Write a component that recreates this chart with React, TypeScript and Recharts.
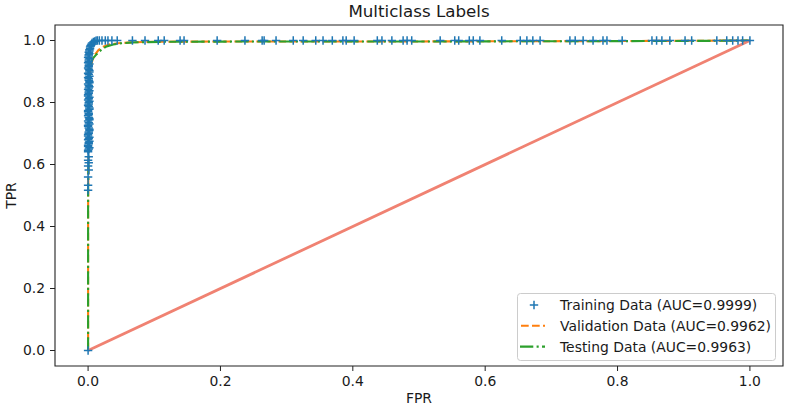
import { ComposedChart, Line, ReferenceArea, Scatter, XAxis, YAxis } from 'recharts';

const WIDTH = 787;
const HEIGHT = 409;
const FONT = '"DejaVu Sans", Verdana, sans-serif';
const TEXT = '#1a1a1a';

// plot box (matches matplotlib axes)
const PLOT_LEFT = 55;
const PLOT_TOP = 25;
const PLOT_RIGHT = 783;
const PLOT_BOTTOM = 366;

const axisTicks = [0, 0.2, 0.4, 0.6, 0.8, 1.0];

// Training ROC points (FPR, TPR), drawn as "+" markers
const trainingPoints: [number, number][] = [
  [0.0, 0.0],
  [0.0, 0.517], [0.0, 0.533], [0.0, 0.56], [0.001, 0.582], [0.0, 0.595],
  [0.001, 0.606], [0.0, 0.614], [0.001, 0.625], [0.0, 0.641],
  [0.001, 0.65], [0.0, 0.658], [0.001, 0.667], [0.002, 0.675], [0.001, 0.684],
  [0.0, 0.692], [0.001, 0.701], [0.002, 0.71], [0.001, 0.718], [0.0, 0.727],
  [0.001, 0.735], [0.002, 0.744], [0.001, 0.752], [0.001, 0.761], [0.0, 0.77],
  [0.002, 0.778], [0.001, 0.787], [0.001, 0.795], [0.002, 0.804], [0.001, 0.812],
  [0.0, 0.821], [0.001, 0.83], [0.002, 0.838], [0.001, 0.847], [0.001, 0.855],
  [0.002, 0.864], [0.001, 0.872], [0.0, 0.881], [0.001, 0.89], [0.002, 0.898],
  [0.001, 0.907], [0.001, 0.915], [0.002, 0.924], [0.001, 0.932], [0.002, 0.941],
  [0.001, 0.95], [0.002, 0.958], [0.002, 0.966], [0.003, 0.973], [0.003, 0.979],
  [0.004, 0.984], [0.005, 0.988], [0.006, 0.992], [0.008, 0.995], [0.01, 0.997],
  [0.012, 0.999],
  [0.0, 0.646], [0.002, 0.654], [0.0, 0.662], [0.001, 0.671], [0.0, 0.68],
  [0.002, 0.688], [0.0, 0.697], [0.001, 0.705], [0.002, 0.714], [0.0, 0.723],
  [0.002, 0.731], [0.0, 0.74], [0.002, 0.748], [0.0, 0.757], [0.001, 0.765],
  [0.0, 0.774], [0.002, 0.782], [0.0, 0.791], [0.001, 0.8], [0.0, 0.808],
  [0.002, 0.817], [0.0, 0.825], [0.001, 0.834], [0.0, 0.842], [0.002, 0.851],
  [0.0, 0.86], [0.002, 0.868], [0.001, 0.877], [0.002, 0.885], [0.0, 0.894],
  [0.002, 0.903], [0.0, 0.911], [0.001, 0.92], [0.0, 0.928], [0.001, 0.937],
  [0.0, 0.945], [0.001, 0.954], [0.001, 0.962], [0.002, 0.97], [0.004, 0.982],
  [0.014, 1.0], [0.017, 1.0], [0.021, 1.0], [0.026, 1.0], [0.03, 1.0],
  [0.036, 1.0], [0.044, 1.0], [0.067, 1.0], [0.086, 1.0], [0.106, 1.0],
  [0.115, 1.0], [0.139, 1.0], [0.145, 1.0], [0.195, 1.0], [0.237, 1.0],
  [0.263, 1.0], [0.266, 1.0], [0.284, 1.0], [0.31, 1.0], [0.325, 1.0],
  [0.344, 1.0], [0.355, 1.0], [0.369, 1.0], [0.385, 1.0], [0.39, 1.0],
  [0.402, 1.0], [0.437, 1.0], [0.444, 1.0], [0.459, 1.0], [0.476, 1.0],
  [0.482, 1.0], [0.489, 1.0], [0.532, 1.0], [0.554, 1.0], [0.56, 1.0],
  [0.576, 1.0], [0.582, 1.0], [0.592, 1.0], [0.625, 1.0], [0.653, 1.0],
  [0.663, 1.0], [0.672, 1.0], [0.683, 1.0], [0.728, 1.0], [0.736, 1.0],
  [0.748, 1.0], [0.763, 1.0], [0.778, 1.0], [0.784, 1.0], [0.807, 1.0],
  [0.852, 1.0], [0.859, 1.0], [0.867, 1.0], [0.879, 1.0], [0.902, 1.0],
  [0.912, 1.0], [0.95, 1.0], [0.965, 1.0], [0.974, 1.0], [0.982, 1.0],
  [0.989, 1.0], [1.0, 1.0],
];

const validationPoints: [number, number][] = [
  [0.0, 0.0], [0.0, 0.45], [0.001, 0.8], [0.002, 0.88], [0.004, 0.915],
  [0.007, 0.94], [0.011, 0.956], [0.016, 0.97], [0.023, 0.98], [0.032, 0.987],
  [0.045, 0.991], [0.065, 0.994], [0.1, 0.996], [0.25, 0.997], [0.5, 0.997],
  [0.75, 0.998], [0.9, 0.999], [1.0, 1.0],
];

const testingPoints: [number, number][] = [
  [0.0, 0.0], [0.0, 0.5], [0.002, 0.85], [0.003, 0.91], [0.005, 0.932],
  [0.008, 0.944], [0.013, 0.956], [0.02, 0.97], [0.028, 0.981], [0.038, 0.987],
  [0.05, 0.991], [0.068, 0.994], [0.12, 0.996], [0.3, 0.997], [0.55, 0.997],
  [0.8, 0.998], [0.95, 0.999], [1.0, 1.0],
];

const chancePoints: [number, number][] = [
  [0.0, 0.0],
  [1.0, 1.0],
];

const legendLabels = [
  'Training Data (AUC=0.9999)',
  'Validation Data (AUC=0.9962)',
  'Testing Data (AUC=0.9963)',
];

const toRows = (pts: [number, number][]) => pts.map(([x, y]) => ({ x, y }));

const BLUE = '#1f77b4';
const ORANGE = '#ff7f0e';
const GREEN = '#2ca02c';
const SALMON = '#f08272';
const DASHED = '7.7 3.3';
const DASH_DOT = '13.3 3.3 2.1 3.3';

function PlusMarker(props: any) {
  const { cx, cy } = props;
  if (cx == null || cy == null) return null;
  const r = 4.2;
  return (
    <path
      d={`M${cx - r},${cy}H${cx + r}M${cx},${cy - r}V${cy + r}`}
      stroke={BLUE}
      strokeWidth={1.5}
      fill="none"
    />
  );
}

function Overlay() {
  const cx = (PLOT_LEFT + PLOT_RIGHT) / 2;
  const cy = (PLOT_TOP + PLOT_BOTTOM) / 2;
  const rowY = [305, 325.8, 346.6];
  return (
    <svg
      width={WIDTH}
      height={HEIGHT}
      style={{ position: 'absolute', left: 0, top: 0, pointerEvents: 'none' }}
      fontFamily={FONT}
    >
      <text x={cx} y={17} textAnchor="middle" fontSize={16.7} fill={TEXT}>
        Multiclass Labels
      </text>
      <text x={cx} y={403} textAnchor="middle" fontSize={13.9} fill={TEXT}>
        FPR
      </text>
      <text
        transform={`translate(15.5,${cy}) rotate(-90)`}
        textAnchor="middle"
        fontSize={13.9}
        fill={TEXT}
      >
        TPR
      </text>

      {/* legend */}
      <rect x={517.5} y={293.5} width={258} height={67} rx={3} fill="#fff" fillOpacity={0.8} stroke="#cccccc" />
      <path d={`M529.8,${rowY[0]}H538.2M534,${rowY[0] - 4.2}V${rowY[0] + 4.2}`} stroke={BLUE} strokeWidth={1.5} />
      <line x1={521} x2={545} y1={rowY[1]} y2={rowY[1]} stroke={ORANGE} strokeWidth={2.1} strokeDasharray={DASHED} />
      <line x1={520} x2={545} y1={rowY[2]} y2={rowY[2]} stroke={GREEN} strokeWidth={2.1} strokeDasharray={DASH_DOT} />
      {legendLabels.map((label, i) => (
        <text key={label} x={560} y={rowY[i] + 5} fontSize={13.9} fill={TEXT}>
          {label}
        </text>
      ))}
    </svg>
  );
}

export default function App() {
  const tickStyle = { fontSize: 13.9, fill: TEXT, fontFamily: FONT };
  return (
    <div style={{ position: 'absolute', left: 0, top: 0, width: WIDTH, height: HEIGHT, background: '#fff' }}>
      <ComposedChart
        width={WIDTH}
        height={HEIGHT}
        margin={{ top: PLOT_TOP, right: WIDTH - PLOT_RIGHT, bottom: 0, left: 0 }}
      >
        <XAxis
          type="number"
          dataKey="x"
          domain={[-0.05, 1.05]}
          ticks={axisTicks}
          allowDataOverflow
          height={HEIGHT - PLOT_BOTTOM}
          tickSize={5}
          tickMargin={5}
          tick={tickStyle}
          tickLine={{ stroke: '#222' }}
          axisLine={false}
          tickFormatter={(v: number) => v.toFixed(1)}
        />
        <YAxis
          type="number"
          dataKey="y"
          domain={[-0.05, 1.05]}
          ticks={axisTicks}
          allowDataOverflow
          width={PLOT_LEFT}
          tickSize={5}
          tickMargin={5}
          tick={tickStyle}
          tickLine={{ stroke: '#222' }}
          axisLine={false}
          tickFormatter={(v: number) => v.toFixed(1)}
        />
        <Scatter data={toRows(trainingPoints)} shape={<PlusMarker />} isAnimationActive={false} />
        <Line
          data={toRows(validationPoints)}
          dataKey="y"
          type="linear"
          stroke={ORANGE}
          strokeWidth={2.1}
          strokeDasharray={DASHED}
          dot={false}
          activeDot={false}
          isAnimationActive={false}
        />
        <Line
          data={toRows(testingPoints)}
          dataKey="y"
          type="linear"
          stroke={GREEN}
          strokeWidth={2.1}
          strokeDasharray={DASH_DOT}
          dot={false}
          activeDot={false}
          isAnimationActive={false}
        />
        <Line
          data={toRows(chancePoints)}
          dataKey="y"
          type="linear"
          stroke={SALMON}
          strokeWidth={2.8}
          dot={false}
          activeDot={false}
          isAnimationActive={false}
        />
        <ReferenceArea
          x1={-0.05}
          x2={1.05}
          y1={-0.05}
          y2={1.05}
          fill="none"
          stroke="#222"
          strokeWidth={1.1}
          ifOverflow="visible"
        />
      </ComposedChart>
      <Overlay />
    </div>
  );
}
